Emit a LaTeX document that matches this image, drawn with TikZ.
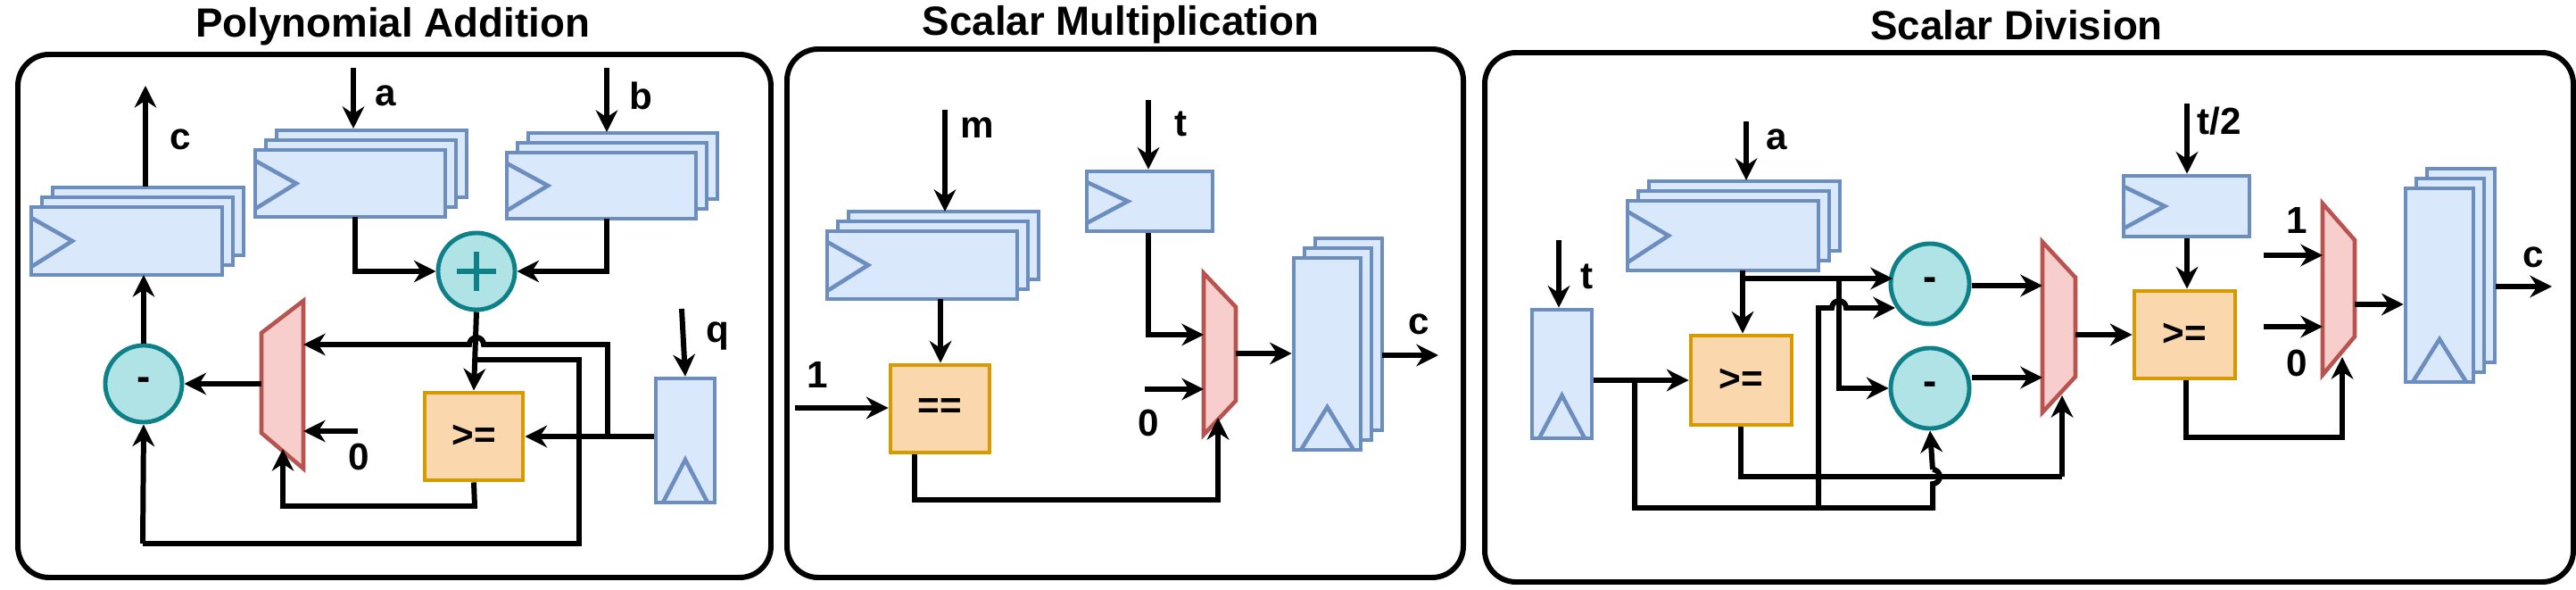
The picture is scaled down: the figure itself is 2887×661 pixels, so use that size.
\documentclass[tikz,border=0pt]{standalone}
\usepackage{fontspec}
\setmainfont{Liberation Sans}
\usetikzlibrary{arrows.meta,fit,shapes.geometric}
\definecolor{regf}{HTML}{DAE8FC}\definecolor{regd}{HTML}{6C8EBF}
\definecolor{muxf}{HTML}{F8CECC}\definecolor{muxd}{HTML}{B85450}
\definecolor{cmpf}{HTML}{FAD7AC}\definecolor{cmpd}{HTML}{D79B00}
\definecolor{opf}{HTML}{B0E3E6}\definecolor{opd}{HTML}{0E8088}
\tikzset{
 regl/.style={draw=regd,fill=regf,line width=1.3pt},
 reg/.style={regl,inner sep=0pt},
 mux/.style={draw=muxd,fill=muxf,line width=1.3pt},
 cmp/.style={draw=cmpd,fill=cmpf,line width=1.4pt,inner sep=0pt},
 ctext/.style={font=\bfseries\fontsize{12}{14}\selectfont,inner sep=0pt},
 op/.style={draw=opd,fill=opf,line width=1.4pt,ellipse,inner sep=0pt,font=\bfseries\fontsize{13}{14}\selectfont},
 wire/.style={line width=1.7pt,line join=miter},
 arr/.style={wire,-{Stealth[length=7pt,width=7pt]}},
 lbl/.style={font=\bfseries\fontsize{12}{14}\selectfont,inner sep=0pt},
 ttl/.style={font=\bfseries\fontsize{13}{15}\selectfont,inner sep=0pt},
 panel/.style={draw,line width=1.7pt,rounded corners=0.35cm},
}
\newcommand\hstack[5]{%
 \draw[regl] (#2+24,#3-22) rectangle (#4+24,#5-22);
 \draw[regl] (#2+12,#3-11) rectangle (#4+12,#5-11);
 \hreg{#1}{#2}{#3}{#4}{#5}}
\newcommand\hreg[5]{%
 \node[reg,fit={(#2,#3)(#4,#5)}] (#1) {};
 \draw[regl,fill=none] (#2,#3+12) -- (#2+46,{(#3+#5)/2}) -- (#2,#5-9);}
\newcommand\vstack[5]{%
 \draw[regl] (#2+24,#3-22) rectangle (#4+24,#5-22);
 \draw[regl] (#2+12,#3-11) rectangle (#4+12,#5-11);
 \vreg{#1}{#2}{#3}{#4}{#5}}
\newcommand\vreg[5]{%
 \node[reg,fit={(#2,#3)(#4,#5)}] (#1) {};
 \draw[regl,fill=none] (#2+8,#5) -- ({(#2+#4)/2},#5-48) -- (#4-8,#5);}
\begin{document}
\begin{tikzpicture}[x=0.01cm,y=-0.01cm]
\useasboundingbox (0,0) rectangle (2887,661);
% ================= Polynomial Addition
\node[ttl] (t1) at (440,30) {Polynomial Addition};
\draw[panel] (20,61) rectangle (864,647);
\hstack{rc}{35}{232}{249}{308}
\hstack{ra}{286}{168}{499}{243}
\hstack{rb}{568}{171}{780}{245}
\vreg{rq}{735}{424}{801}{563}
\node[op,minimum width=0.86cm,minimum height=0.86cm] (plus) at (534,304) {};
\draw[opd,line width=1.7pt] (534,282) -- (534,326) (512,304) -- (556,304);
\node[op,minimum width=0.86cm,minimum height=0.86cm] (sub1) at (161,430) {-};
\node[cmp,fit={(476,440)(586,538)}] (ge1) {};
\node[ctext] at (ge1) {>=};
\coordinate (m1a) at (293,373);\coordinate (m1b) at (340,337);
\coordinate (m1c) at (340,525);\coordinate (m1d) at (293,485);
\draw[mux] (m1a) -- (m1b) -- (m1c) -- (m1d) -- cycle;
\coordinate (ina) at (396,76);\coordinate (inb) at (680,76);
\coordinate (inq) at (764,346);\coordinate (outc) at (163,96);
\draw[arr] (ina) -- (396,144);
\draw[arr] (inb) -- (680,148);
\draw[arr] (inq) -- (rq.north);
\draw[arr] (163,209) -- (outc);
\node[lbl] at (432,107) {a};
\node[lbl] at (718,107) {b};
\node[lbl] at (804,377) {q};
\node[lbl] at (202,156) {c};
\draw[arr] (398,243) |- (plus.west);
\draw[arr] (680,245) |- (plus.east);
\draw[arr] (plus.south) -- (ge1.north);
\draw[arr] (rq.west |- 0,489) -- (ge1.east |- 0,489);
\draw[arr] (681,489) -- (681,386) -- (542,386) arc[start angle=0,end angle=180,radius=0.08cm] -- (340,386);
\draw[wire] (534,403) -- (649,403) -- (649,609) -- (160,609);
\draw[arr] (160,609) -- (sub1.south);
\draw[arr] (293,430) -- (sub1.east);
\draw[arr] (sub1.north) -- (161,308);
\coordinate (z1) at (401,483);
\draw[arr] (z1) -- (340,483);
\node[lbl] at (402,512) {0};
\draw[arr] (ge1.south) -- (532,567) -- (317,567) -- (317,503);
% ================= Scalar Multiplication
\node[ttl] (t2) at (1256,28) {Scalar Multiplication};
\draw[panel] (882,55) rectangle (1640,647);
\hstack{rm}{927}{259}{1140}{335}
\hreg{rt}{1218}{192}{1359}{259}
\vstack{rcm}{1450}{289}{1525}{504}
\node[cmp,fit={(998,409)(1109,507)}] (eq) {};
\node[ctext] at (eq) {==};
\coordinate (m2a) at (1349,306);\coordinate (m2b) at (1385,344);
\coordinate (m2c) at (1385,449);\coordinate (m2d) at (1349,487);
\draw[mux] (m2a) -- (m2b) -- (m2c) -- (m2d) -- cycle;
\coordinate (inm) at (1059,123);\coordinate (int) at (1287,112);
\draw[arr] (inm) -- (1059,237);
\draw[arr] (int) -- (rt.north -| int);
\node[lbl] at (1095,143) {m};
\node[lbl] at (1324,139) {t};
\draw[arr] (1054,335) -- (eq.north -| 1054,0);
\coordinate (one2) at (891,457);
\draw[arr] (one2) -- (eq.west |- one2);
\node[lbl] at (916,420) {1};
\draw[arr] (rt.south -| int) |- (1349,375);
\coordinate (z2) at (1283,436);
\draw[arr] (z2) -- (1349,436);
\node[lbl] at (1287,474) {0};
\draw[arr] (eq.south -| 1025,0) -- (1025,560) -- (1365,560) -- (1365,468);
\draw[arr] (1385,396) -- (rcm.west |- 0,396);
\coordinate (outc2) at (1612,398);
\draw[arr] (1549,398) -- (outc2);
\node[lbl] at (1590,363) {c};
% ================= Scalar Division
\node[ttl] (t3) at (2260,28) {Scalar Division};
\draw[panel] (1664,59) rectangle (2884,652);
\vreg{rtd}{1717}{347}{1784}{491}
\hstack{rad}{1824}{225}{2038}{303}
\hreg{rt2}{2380}{197}{2521}{265}
\vstack{rcd}{2696}{211}{2772}{428}
\node[cmp,fit={(1895,376)(2008,476)}] (ge2) {};
\node[ctext] at (ge2) {>=};
\node[cmp,fit={(2392,326)(2505,424)}] (ge3) {};
\node[ctext] at (ge3) {>=};
\node[op,minimum width=0.88cm,minimum height=0.9cm] (s2) at (2163,318) {-};
\node[op,minimum width=0.88cm,minimum height=0.9cm] (s3) at (2163,435) {-};
\coordinate (m3a) at (2289,271);\coordinate (m3b) at (2326,311);
\coordinate (m3c) at (2326,422);\coordinate (m3d) at (2289,462);
\draw[mux] (m3a) -- (m3b) -- (m3c) -- (m3d) -- cycle;
\coordinate (m4a) at (2603,228);\coordinate (m4b) at (2639,269);
\coordinate (m4c) at (2639,377);\coordinate (m4d) at (2603,420);
\draw[mux] (m4a) -- (m4b) -- (m4c) -- (m4d) -- cycle;
\coordinate (intd) at (1747,269);\coordinate (inad) at (1957,136);\coordinate (int2) at (2451,116);
\draw[arr] (intd) -- (rtd.north -| intd);
\draw[arr] (inad) -- (1957,202);
\draw[arr] (int2) -- (rt2.north -| int2);
\node[lbl] at (1779,310) {t};
\node[lbl] at (1991,156) {a};
\node[lbl] at (2487,136) {t/2};
\draw[arr] (rtd.east |- 0,426) -- (ge2.west |- 0,426);
\draw[arr] (1953,303) -- (ge2.north -| 1953,0);
\draw[arr] (1953,312) -- (2121,312);
\draw[arr] (2061,312) |- (s3.west);
\draw[wire] (1832,426) -- (1832,569) -- (2166,569) -- (2166,542) arc[start angle=-90,end angle=90,radius=0.08cm];
\draw[arr] (2166,526) -- (s3.south);
\draw[arr] (2038,569) -- (2038,345) -- (2053,345) arc[start angle=180,end angle=0,radius=0.08cm] -- (2124,345);
\draw[wire] (ge2.south -| 1951,0) -- (1951,534) -- (2311,534);
\draw[arr] (2311,534) -- (2311,443);
\draw[arr] (s2.east |- 0,320) -- (2289,320);
\draw[arr] (s3.east |- 0,423) -- (2289,423);
\draw[arr] (2326,375) -- (ge3.west |- 0,375);
\draw[arr] (rt2.south -| int2) -- (ge3.north -| int2);
\draw[arr] (ge3.south -| 2450,0) -- (2450,490) -- (2625,490) -- (2625,400);
\coordinate (one3) at (2537,286);\coordinate (z3) at (2537,366);
\draw[arr] (one3) -- (2603,286);
\draw[arr] (z3) -- (2603,366);
\node[lbl] at (2574,247) {1};
\node[lbl] at (2574,407) {0};
\draw[arr] (2639,341) -- (rcd.west |- 0,341);
\coordinate (outc3) at (2860,321);
\draw[arr] (2797,321) -- (outc3);
\node[lbl] at (2839,288) {c};
\end{tikzpicture}
\end{document}
